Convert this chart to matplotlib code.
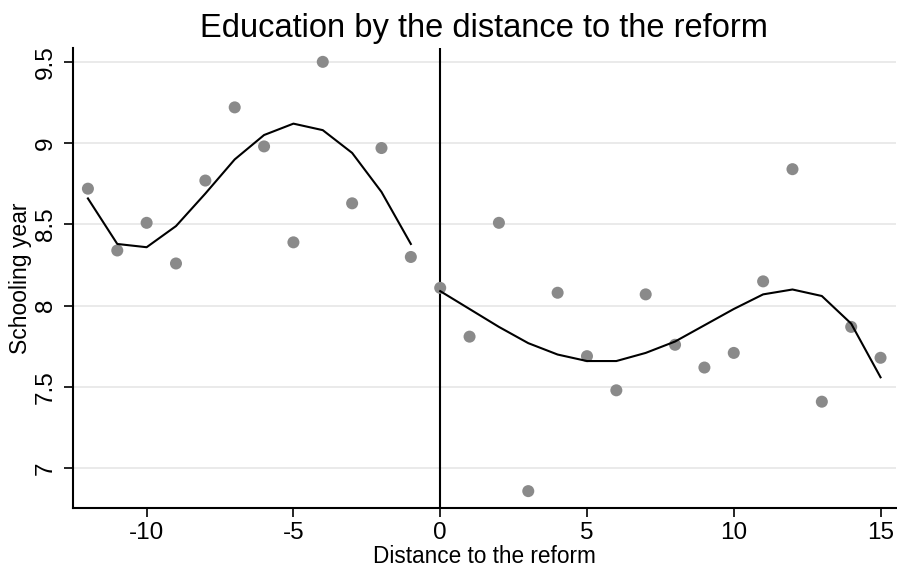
"""Education by the distance to the reform (binned scatter + smoothed fit)"""

import numpy as np
import matplotlib

matplotlib.use("Agg")
import matplotlib.pyplot as plt

plt.rcParams["font.family"] = ["Liberation Sans", "DejaVu Sans"]

# binned means by distance to the reform
dist = np.arange(-12, 16)
school = [8.72, 8.34, 8.51, 8.26, 8.77, 9.22, 8.98, 8.39, 9.50, 8.63, 8.97, 8.30,
          8.11, 7.81, 8.51, 6.86, 8.08, 7.69, 7.48, 8.07, 7.76, 7.62, 7.71, 8.15,
          8.84, 7.41, 7.87, 7.68]

# fitted curve, before the reform
fit_pre_x = np.arange(-12, 0)
fit_pre_y = [8.66, 8.38, 8.36, 8.49, 8.69, 8.90, 9.05, 9.12, 9.08, 8.94, 8.70, 8.38]

# fitted curve, after the reform
fit_post_x = np.arange(0, 16)
fit_post_y = [8.09, 7.98, 7.87, 7.77, 7.70, 7.66, 7.66, 7.71, 7.78, 7.88, 7.98,
              8.07, 8.10, 8.06, 7.89, 7.56]

xticks = [-10, -5, 0, 5, 10, 15]
yticks = [7, 7.5, 8, 8.5, 9, 9.5]
yticklabels = ["7", "7.5", "8", "8.5", "9", "9.5"]

fig = plt.figure(figsize=(8.97, 5.67), dpi=100)
ax = fig.add_axes([0.081, 0.104, 0.918, 0.811])

ax.set_xlim(-12.52, 15.53)
ax.set_ylim(6.756, 9.584)

for y in yticks:
    ax.axhline(y, color="#e6e6e6", lw=1.2, zorder=0)

ax.scatter(dist, school, s=75, color="#8a8a8a", edgecolors="none", zorder=3)
ax.plot(fit_pre_x, fit_pre_y, color="black", lw=1.5, zorder=4)
ax.plot(fit_post_x, fit_post_y, color="black", lw=1.5, zorder=4)
ax.axvline(0, color="black", lw=1.5, zorder=2)

ax.spines["top"].set_visible(False)
ax.spines["right"].set_visible(False)
for s in ("left", "bottom"):
    ax.spines[s].set_linewidth(1.5)

ax.set_xticks(xticks)
ax.set_xticklabels([str(t) for t in xticks])
ax.set_yticks(yticks)
ax.set_yticklabels(yticklabels, rotation=90, va="center")
ax.tick_params(axis="both", labelsize=17.5, length=6.5, width=1.2, pad=5)
ax.tick_params(axis="x", pad=3.5)

ax.set_title("Education by the distance to the reform", fontsize=23.5, pad=8)
ax.set_xlabel("Distance to the reform", fontsize=16.3, va="baseline")
ax.xaxis.set_label_coords(0.5, -0.1185)
ax.set_ylabel("Schooling year", fontsize=16.5, labelpad=2)

fig.savefig("out.png", dpi=100)
